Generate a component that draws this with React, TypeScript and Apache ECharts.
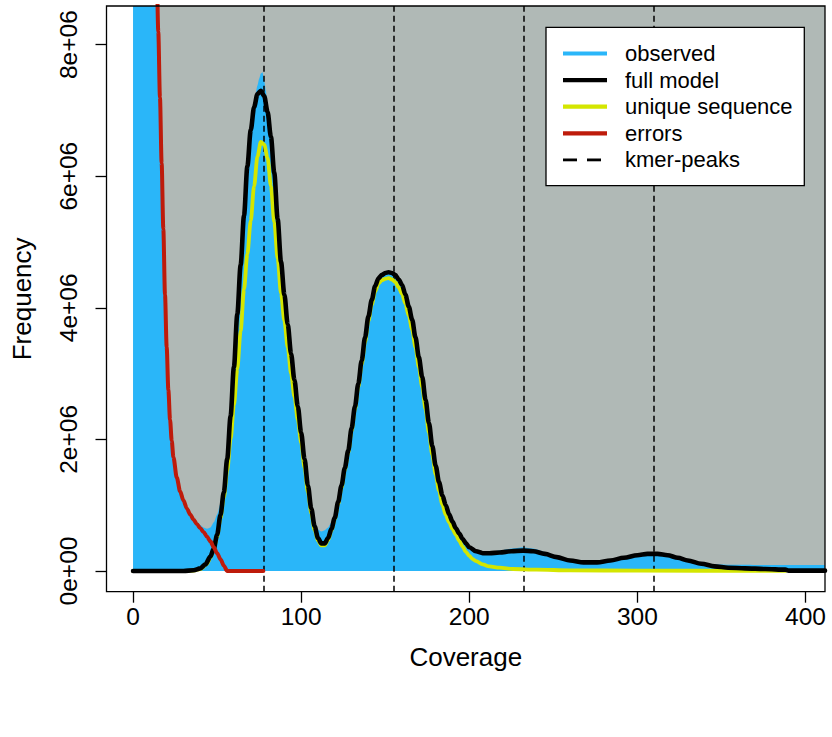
import React, { useEffect, useRef } from "react";
import * as echarts from "echarts";

// ---- data (frequency values in millions) ----
const xTicks = [0, 100, 200, 300, 400];
const yTicks = [0, 2, 4, 6, 8];
const yTickLabels = ["0e+00", "2e+06", "4e+06", "6e+06", "8e+06"];
const kmerPeaks = [77.5, 155, 232.5, 310];
const legendNames = ["observed", "full model", "unique sequence", "errors", "kmer-peaks"];

const observed: [number, number][] = [
  [0, 40], [4, 28], [8, 17.5], [10, 13.6], [12, 11.3], [14, 9.2], [16, 7.2], [18, 5.2], [19, 4.2], [20, 3.4],
  [21, 2.78], [22, 2.32], [23, 2.0], [24, 1.76], [26, 1.45], [28, 1.24], [30, 1.1], [32, 0.98], [34, 0.89],
  [36, 0.81], [38, 0.75], [40, 0.7], [42, 0.66], [44, 0.64], [46, 0.66], [48, 0.74], [50, 0.86], [52, 1.02],
  [54, 1.26], [56, 1.72], [58, 2.36], [60, 3.1], [62, 3.9], [64, 4.65], [66, 5.4], [68, 6.15], [70, 6.72],
  [72, 7.12], [74, 7.38], [75, 7.48], [76, 7.56], [77, 7.58], [78, 7.45], [79, 7.3], [80, 7.08], [82, 6.62],
  [84, 6.05], [86, 5.35], [88, 4.7], [90, 4.2], [92, 3.75], [94, 3.3], [96, 2.9], [98, 2.5], [100, 2.1],
  [102, 1.72], [104, 1.34], [106, 1.0], [108, 0.76], [110, 0.63], [112, 0.6], [114, 0.62], [116, 0.66],
  [118, 0.74], [120, 0.86], [122, 1.06], [124, 1.31], [126, 1.58], [128, 1.84], [130, 2.17], [132, 2.5],
  [134, 2.85], [136, 3.2], [138, 3.55], [140, 3.87], [142, 4.12], [144, 4.33], [146, 4.45], [148, 4.5],
  [150, 4.53], [152, 4.54], [154, 4.53], [156, 4.5], [158, 4.43], [160, 4.35], [162, 4.2], [164, 4.02],
  [166, 3.82], [168, 3.55], [170, 3.25], [172, 2.95], [174, 2.6], [176, 2.25], [178, 1.9], [180, 1.6],
  [182, 1.35], [184, 1.15], [186, 1.0], [188, 0.87], [190, 0.75], [192, 0.65], [194, 0.57], [196, 0.49],
  [198, 0.42], [200, 0.37], [204, 0.31], [208, 0.29], [212, 0.29], [218, 0.31], [225, 0.34], [232, 0.36],
  [238, 0.34], [245, 0.29], [252, 0.23], [260, 0.18], [268, 0.16], [276, 0.16], [284, 0.18], [292, 0.21],
  [300, 0.24], [306, 0.26], [312, 0.26], [318, 0.24], [324, 0.2], [330, 0.16], [338, 0.12], [346, 0.1],
  [360, 0.095], [380, 0.09], [400, 0.09], [411.6, 0.09],
];

const fullModel: [number, number][] = [
  [0, 0], [10, 0], [20, 0], [30, 0], [36, 0.01], [40, 0.04], [43, 0.1], [46, 0.22], [48, 0.34], [50, 0.55],
  [52, 0.85], [54, 1.2], [56, 1.7], [58, 2.35], [60, 3.1], [62, 3.9], [64, 4.65], [66, 5.4], [68, 6.15],
  [70, 6.7], [72, 7.05], [74, 7.25], [76, 7.3], [78, 7.22], [80, 6.98], [82, 6.6], [84, 6.05], [86, 5.35],
  [88, 4.7], [90, 4.2], [92, 3.75], [94, 3.3], [96, 2.9], [98, 2.5], [100, 2.1], [102, 1.7], [104, 1.3],
  [106, 0.95], [108, 0.68], [110, 0.5], [112, 0.42], [114, 0.42], [116, 0.5], [118, 0.64], [120, 0.81],
  [122, 1.05], [124, 1.3], [126, 1.57], [128, 1.83], [130, 2.17], [132, 2.5], [134, 2.85], [136, 3.2],
  [138, 3.55], [140, 3.87], [142, 4.12], [144, 4.33], [146, 4.45], [148, 4.5], [150, 4.53], [152, 4.54],
  [154, 4.53], [156, 4.5], [158, 4.43], [160, 4.35], [162, 4.2], [164, 4.02], [166, 3.82], [168, 3.55],
  [170, 3.25], [172, 2.95], [174, 2.6], [176, 2.25], [178, 1.9], [180, 1.6], [182, 1.35], [184, 1.15],
  [186, 1.0], [188, 0.86], [190, 0.75], [192, 0.65], [194, 0.57], [196, 0.49], [198, 0.42], [200, 0.36],
  [204, 0.3], [208, 0.27], [212, 0.27], [218, 0.28], [225, 0.3], [232, 0.31], [238, 0.3], [245, 0.26],
  [252, 0.21], [260, 0.16], [268, 0.13], [276, 0.13], [284, 0.16], [292, 0.2], [300, 0.24], [306, 0.26],
  [312, 0.26], [318, 0.24], [324, 0.2], [330, 0.16], [338, 0.11], [346, 0.07], [354, 0.05], [364, 0.04],
  [376, 0.03], [388, 0.02], [390, 0.005], [411.6, 0.005],
];

const uniqueSequence: [number, number][] = [
  [0, 0], [20, 0], [30, 0], [36, 0.005], [40, 0.03], [44, 0.11], [46, 0.2], [48, 0.33], [50, 0.52],
  [52, 0.8], [54, 1.12], [56, 1.52], [58, 2.0], [60, 2.52], [62, 3.07], [64, 3.65], [66, 4.28], [68, 4.82],
  [70, 5.32], [72, 5.85], [74, 6.3], [76, 6.52], [78, 6.48], [80, 6.28], [82, 5.85], [84, 5.3], [86, 4.75],
  [88, 4.22], [90, 3.8], [92, 3.4], [94, 3.0], [96, 2.65], [98, 2.3], [100, 1.95], [102, 1.57], [104, 1.2],
  [106, 0.88], [108, 0.62], [110, 0.46], [112, 0.39], [114, 0.39], [116, 0.47], [118, 0.61], [120, 0.79],
  [122, 1.02], [124, 1.27], [126, 1.54], [128, 1.8], [130, 2.13], [132, 2.46], [134, 2.8], [136, 3.14],
  [138, 3.48], [140, 3.8], [142, 4.05], [144, 4.25], [146, 4.37], [148, 4.42], [150, 4.44], [152, 4.45],
  [154, 4.43], [156, 4.39], [158, 4.31], [160, 4.21], [162, 4.06], [164, 3.88], [166, 3.67], [168, 3.4],
  [170, 3.1], [172, 2.8], [174, 2.46], [176, 2.1], [178, 1.77], [180, 1.47], [182, 1.22], [184, 1.01],
  [186, 0.85], [188, 0.74], [190, 0.64], [192, 0.55], [194, 0.46], [196, 0.37], [198, 0.29], [200, 0.23],
  [202, 0.18], [204, 0.15], [208, 0.1], [212, 0.07], [218, 0.05], [226, 0.03], [240, 0.02], [260, 0.01],
  [300, 0.005], [388, 0],
];

const errors: [number, number][] = [
  [8, 17], [10, 13.5], [12, 11.3], [14, 9.2], [15, 8.2], [16, 7.2], [17, 6.2], [18, 5.2], [19, 4.2],
  [20, 3.4], [21, 2.75], [22, 2.3], [23, 1.98], [24, 1.73], [26, 1.42], [28, 1.21], [30, 1.07], [32, 0.95],
  [34, 0.86], [36, 0.78], [38, 0.71], [40, 0.65], [42, 0.59], [44, 0.52], [46, 0.45], [48, 0.36], [50, 0.27],
  [52, 0.18], [54, 0.08], [56, 0], [77.5, 0],
];

// axis ranges
const xMin = -15.8;
const xMax = 411.6;
const yMin = -0.315;
const yMax = 8.587;

const FONT = '"Liberation Sans", Arial, Helvetica, sans-serif';
const BLUE = "#2AB6F9";
const GRAY = "#B0B9B6";
const YELLOW = "#D4E600";
const RED = "#BE1B0B";
const BLACK = "#000000";

export default function App() {
  const ref = useRef<HTMLDivElement>(null);

  useEffect(() => {
    if (!ref.current) return;
    const chart = echarts.init(ref.current, undefined, { renderer: "svg" });

    const legendColors = [BLUE, BLACK, YELLOW, RED];
    const rowY0 = 53.5;
    const rowDy = 26.6;
    const legendGraphics: any[] = [
      {
        type: "rect",
        shape: { x: 546, y: 27.3, width: 258.3, height: 158.4 },
        style: { fill: "#fff", stroke: "#000", lineWidth: 1.3 },
        z: 50,
      },
    ];
    legendNames.forEach((name, i) => {
      const y = rowY0 + i * rowDy;
      if (i < 4) {
        legendGraphics.push({
          type: "line",
          shape: { x1: 563, y1: y, x2: 607, y2: y },
          style: { stroke: legendColors[i], lineWidth: 4.2 },
          z: 51,
        });
      } else {
        legendGraphics.push({
          type: "line",
          shape: { x1: 563, y1: y, x2: 577, y2: y },
          style: { stroke: BLACK, lineWidth: 2.8 },
          z: 51,
        });
        legendGraphics.push({
          type: "line",
          shape: { x1: 587, y1: y, x2: 601, y2: y },
          style: { stroke: BLACK, lineWidth: 2.8 },
          z: 51,
        });
      }
      legendGraphics.push({
        type: "text",
        x: 625,
        y: y,
        style: {
          text: name,
          fontSize: 22,
          fontFamily: FONT,
          fill: "#000",
          textAlign: "left",
          textVerticalAlign: "middle",
          verticalAlign: "middle",
        },
        z: 51,
      });
    });

    const lineCommon = {
      type: "line",
      showSymbol: false,
      symbol: "none",
      smooth: 0.3,
      smoothMonotone: "x",
      clip: true,
      silent: true,
    };

    const option: any = {
      animation: false,
      backgroundColor: "#ffffff",
      grid: {
        left: 106.5,
        top: 6,
        width: 718.5,
        height: 585.7,
        show: true,
        borderColor: "#000",
        borderWidth: 1.3,
        backgroundColor: "transparent",
        containLabel: false,
        z: 100,
      },
      xAxis: {
        type: "value",
        min: xMin,
        max: xMax,
        name: "Coverage",
        nameLocation: "middle",
        nameGap: 52,
        nameTextStyle: { fontFamily: FONT, fontSize: 26, color: "#000", lineHeight: 26 },
        axisLine: { show: false, onZero: false },
        axisTick: { show: true, customValues: xTicks, length: 11, lineStyle: { color: "#000", width: 1.3 } },
        axisLabel: {
          customValues: xTicks,
          margin: 13,
          fontFamily: FONT,
          fontSize: 24.5,
          lineHeight: 24.5,
          color: "#000",
        },
        splitLine: { show: false },
      },
      yAxis: {
        type: "value",
        min: yMin,
        max: yMax,
        name: "Frequency",
        nameLocation: "middle",
        nameGap: 71.5,
        nameTextStyle: { fontFamily: FONT, fontSize: 26, color: "#000", lineHeight: 26 },
        axisLine: { show: false, onZero: false },
        axisTick: { show: true, customValues: yTicks, length: 11, lineStyle: { color: "#000", width: 1.3 } },
        axisLabel: {
          customValues: yTicks,
          rotate: 90,
          margin: 26,
          fontFamily: FONT,
          fontSize: 24.5,
          lineHeight: 24.5,
          color: "#000",
          formatter: (v: number) => {
            const idx = yTicks.findIndex((t) => Math.abs(t - v) < 1e-9);
            return idx >= 0 ? yTickLabels[idx] : "";
          },
        },
        splitLine: { show: false },
      },
      graphic: legendGraphics,
      series: [
        {
          ...lineCommon,
          name: legendNames[0],
          smooth: 0.2,
          data: observed,
          color: BLUE,
          lineStyle: { width: 0, color: BLUE },
          areaStyle: { color: BLUE, opacity: 1 },
          z: 2,
          markArea: {
            silent: true,
            itemStyle: { color: GRAY, opacity: 1 },
            label: { show: false },
            data: [[{ xAxis: 0, yAxis: 0 }, { xAxis: xMax, yAxis: yMax }]],
          },
        },
        {
          type: "line",
          name: legendNames[4],
          data: [],
          color: BLACK,
          silent: true,
          markLine: {
            silent: true,
            symbol: ["none", "none"],
            label: { show: false },
            lineStyle: { color: BLACK, width: 1.5, type: [6, 4] },
            data: kmerPeaks.map((x) => ({ xAxis: x })),
            z: 5,
          },
        },
        {
          ...lineCommon,
          name: legendNames[2],
          data: uniqueSequence,
          color: YELLOW,
          lineStyle: { width: 3.8, color: YELLOW, cap: "round", join: "round" },
          z: 10,
        },
        {
          ...lineCommon,
          name: legendNames[1],
          data: fullModel,
          color: BLACK,
          lineStyle: { width: 4.6, color: BLACK, cap: "round", join: "round" },
          z: 11,
        },
        {
          ...lineCommon,
          name: legendNames[3],
          data: errors,
          color: RED,
          lineStyle: { width: 4, color: RED, cap: "round", join: "round" },
          z: 12,
        },
      ],
    };

    chart.setOption(option);
    return () => {
      chart.dispose();
    };
  }, []);

  return (
    <div
      ref={ref}
      style={{ position: "fixed", left: 0, top: 0, width: 832, height: 737, background: "#fff" }}
    />
  );
}
